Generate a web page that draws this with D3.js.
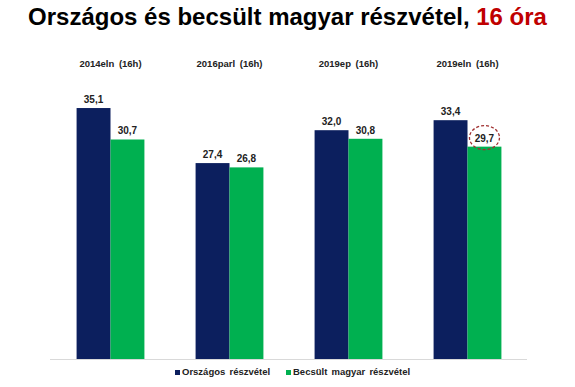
<!DOCTYPE html>
<html lang="hu">
<head>
  <meta charset="UTF-8">
  <title>Részvétel</title>
  <script src="https://cdn.jsdelivr.net/npm/d3@7"></script>
  <style>
    body { margin: 0; background: #fff; }
    text { font-family: "Liberation Sans", Arial, sans-serif; }
  </style>
</head>
<body>
  <div id="chart"></div>

  <script>
    const categories = ['2014eln (16h)', '2016parl (16h)', '2019ep (16h)', '2019eln (16h)'];
    const seriesNames = ['Országos részvétel', 'Becsült magyar részvétel'];
    const orszagos = [35.1, 27.4, 32.0, 33.4];
    const becsult = [30.7, 26.8, 30.8, 29.7];
    const colors = ['#0c1f5e', '#00b050'];

    const width = 575, height = 387;
    const baseY = 359;

    const svg = d3.select('#chart')
      .append('svg')
        .attr('width', width)
        .attr('height', height);

    // title
    const title = svg.append('text')
      .attr('x', width / 2)
      .attr('y', 25)
      .attr('text-anchor', 'middle')
      .style('font-size', '24px')
      .style('font-weight', 'bold')
      .attr('fill', '#000');
    title.append('tspan').text('Országos és becsült magyar részvétel, ');
    title.append('tspan').attr('fill', '#c00000').text('16 óra');

    const x = d3.scaleBand()
      .domain(categories)
      .range([51, 527])
      .paddingInner(0.43)
      .paddingOuter(0.215);

    const xSub = d3.scaleBand()
      .domain(seriesNames)
      .range([0, x.bandwidth()]);

    const y = d3.scaleLinear()
      .domain([0, 40])
      .range([baseY, baseY - 40 * 7.15]);

    // baseline
    svg.append('line')
      .attr('x1', 50).attr('x2', 527)
      .attr('y1', baseY + 0.5).attr('y2', baseY + 0.5)
      .attr('stroke', '#d9d9d9')
      .attr('stroke-width', 1);

    // group titles
    svg.selectAll('.grp')
      .data(categories)
      .join('text')
        .attr('class', 'grp')
        .attr('x', d => x(d) + x.bandwidth() / 2)
        .attr('y', 67)
        .attr('text-anchor', 'middle')
        .style('font-size', '9.5px')
        .style('font-weight', 'bold')
        .style('word-spacing', '2px')
        .attr('fill', '#222')
        .text(d => d);

    const rows = categories.map((c, i) => ({ cat: c, vals: [orszagos[i], becsult[i]] }));

    const groups = svg.selectAll('.g')
      .data(rows)
      .join('g')
        .attr('transform', d => `translate(${x(d.cat)},0)`);

    groups.selectAll('rect')
      .data(d => d.vals.map((v, j) => ({ name: seriesNames[j], v, j })))
      .join('rect')
        .attr('x', d => xSub(d.name))
        .attr('y', d => y(d.v))
        .attr('width', xSub.bandwidth())
        .attr('height', d => baseY - y(d.v))
        .attr('fill', d => colors[d.j]);

    groups.selectAll('.val')
      .data(d => d.vals.map((v, j) => ({ name: seriesNames[j], v, j })))
      .join('text')
        .attr('class', 'val')
        .attr('x', d => xSub(d.name) + xSub.bandwidth() / 2)
        .attr('y', d => y(d.v) - 5)
        .attr('text-anchor', 'middle')
        .style('font-size', '10px')
        .style('font-weight', 'bold')
        .attr('fill', '#222')
        .text(d => d3.format('.1f')(d.v).replace('.', ','));

    // dashed circle around the last estimate
    const last = categories.length - 1;
    svg.append('ellipse')
      .attr('cx', x(categories[last]) + xSub(seriesNames[1]) + xSub.bandwidth() / 2)
      .attr('cy', y(becsult[last]) - 9)
      .attr('rx', 15)
      .attr('ry', 12)
      .attr('fill', 'none')
      .attr('stroke', '#a03030')
      .attr('stroke-width', 1.3)
      .attr('stroke-dasharray', '3,2');

    // legend
    const legendX = [175, 286];
    const legend = svg.selectAll('.leg')
      .data(seriesNames)
      .join('g')
        .attr('transform', (d, i) => `translate(${legendX[i]},375)`);
    legend.append('rect')
      .attr('x', 0).attr('y', -5)
      .attr('width', 5).attr('height', 5)
      .attr('fill', (d, i) => colors[i]);
    legend.append('text')
      .attr('x', 7)
      .attr('y', 0)
      .style('font-size', '9.5px')
      .style('font-weight', 'bold')
      .style('word-spacing', '1.5px')
      .attr('fill', '#222')
      .text(d => d);
  </script>
</body>
</html>
